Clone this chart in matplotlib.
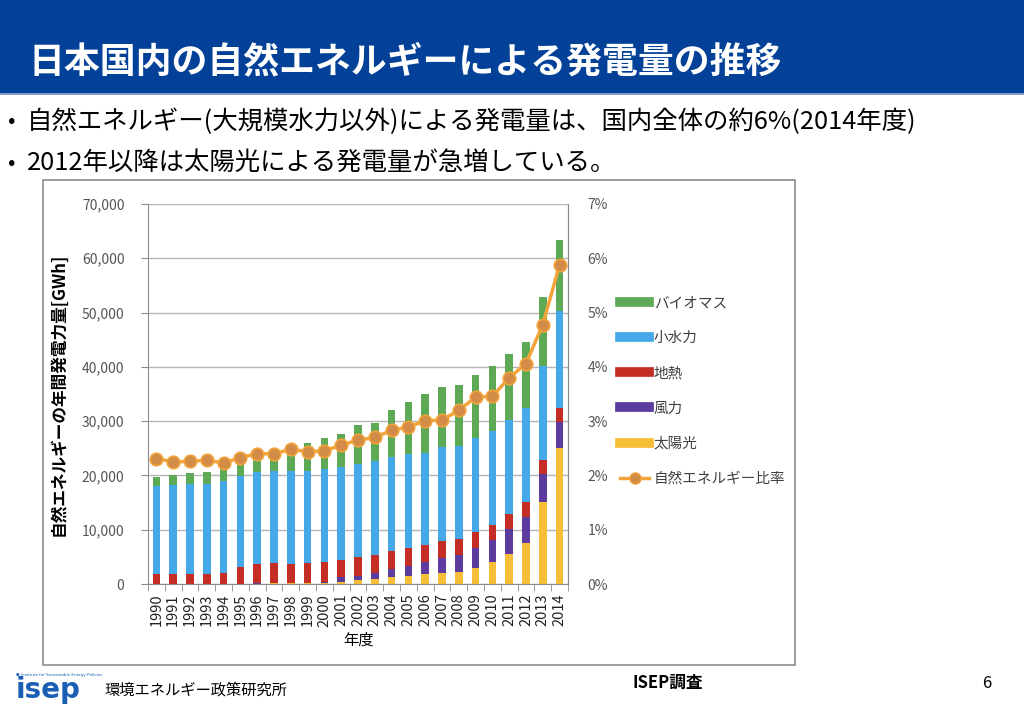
import numpy as np
import matplotlib.pyplot as plt
from matplotlib.lines import Line2D
from matplotlib.patches import Rectangle

plt.rcParams['font.family'] = ['Noto Sans CJK JP', 'DejaVu Sans']

# 年度
years = list(range(1990, 2015))

# 発電量 [GWh]
solar = [0, 0, 0, 0, 0, 0, 0, 100, 100, 100, 200, 400, 700, 900, 1200,
         1500, 1800, 2100, 2300, 3000, 4000, 5500, 7500, 15100, 25000]
wind = [0, 0, 0, 0, 0, 0, 100, 100, 100, 100, 200, 800, 800, 1100, 1500,
        1900, 2200, 2600, 3000, 3700, 4100, 4600, 4800, 5100, 4900]
geothermal = [1800, 1800, 1800, 1800, 2000, 3100, 3600, 3700, 3500, 3700, 3600,
              3300, 3500, 3300, 3400, 3200, 3100, 3200, 2900, 2900, 2700, 2800,
              2800, 2600, 2600]
small_hydro = [16200, 16400, 16700, 16700, 16900, 16800, 17000, 16900, 17100,
               16900, 17100, 17000, 17100, 17300, 17300, 17300, 17100, 17300,
               17200, 17300, 17400, 17400, 17400, 17400, 17700]
biomass = [1750, 1800, 1900, 2100, 2400, 2300, 2400, 2600, 3600, 5200, 5800,
           6100, 7100, 7000, 8700, 9700, 10800, 11000, 11200, 11600, 12000,
           12000, 12100, 12600, 13100]

# 自然エネルギー比率 [%]
ratio = [2.31, 2.25, 2.26, 2.28, 2.23, 2.33, 2.40, 2.40, 2.48, 2.44, 2.45,
         2.56, 2.65, 2.70, 2.83, 2.89, 3.01, 3.02, 3.20, 3.44, 3.46, 3.80,
         4.06, 4.78, 5.88]

series = [("太陽光", solar, "#F6BE37"),
          ("風力", wind, "#5B3B9E"),
          ("地熱", geothermal, "#C42E25"),
          ("小水力", small_hydro, "#45A9E9"),
          ("バイオマス", biomass, "#5EA956")]

W, H = 1024, 708
fig = plt.figure(figsize=(W / 100, H / 100), dpi=100)

def fx(px):
    return px / W

def fy(py):
    return 1 - py / H

# ヘッダー
fig.patches.append(Rectangle((0, fy(93)), 1, 93 / H, transform=fig.transFigure,
                             facecolor="#034198", edgecolor="none", zorder=-2))
fig.patches.append(Rectangle((0, fy(95)), 1, 2 / H, transform=fig.transFigure,
                             facecolor="#7F9CC8", edgecolor="none", zorder=-2))
fig.text(fx(28), fy(62), "日本国内の自然エネルギーによる発電量の推移",
         color="white", fontsize=25.8, fontweight="bold", va="center", ha="left")

fig.text(fx(8), fy(122), "•", fontsize=16, va="center")
fig.text(fx(27), fy(122), "自然エネルギー(大規模水力以外)による発電量は、国内全体の約6%(2014年度)",
         fontsize=18.3, va="center")
fig.text(fx(8), fy(163), "•", fontsize=16, va="center")
fig.text(fx(27), fy(163), "2012年以降は太陽光による発電量が急増している。",
         fontsize=18.3, va="center")

# グラフ枠
fig.patches.append(Rectangle((fx(43), fy(665)), fx(795 - 43), (665 - 180) / H,
                             transform=fig.transFigure, facecolor="white",
                             edgecolor="#8C8C8C", linewidth=1.2, zorder=-1))

ax = fig.add_axes([fx(148), fy(584), fx(568 - 148), (584 - 204) / H])
ax.patch.set_alpha(0)
x = np.arange(len(years))
bottom = np.zeros(len(years))
for name, vals, col in series:
    ax.bar(x, vals, width=0.45, bottom=bottom, color=col, zorder=2)
    bottom += np.array(vals)

ax.set_xlim(-0.5, len(years) - 0.5)
ax.set_ylim(0, 70000)
ax.set_yticks(range(0, 70001, 10000))
ax.set_yticklabels([f"{v:,}" for v in range(0, 70001, 10000)])
ax.set_xticks(x)
ax.set_xticklabels([str(y) for y in years], rotation=90, fontsize=10.5, color="#222222")
ax.set_xticks(np.arange(-0.5, len(years), 1), minor=True)
ax.tick_params(axis="x", which="major", length=0, pad=7)
ax.tick_params(axis="x", which="minor", length=5, color="#8C8C8C")
ax.tick_params(axis="y", length=5, color="#8C8C8C", labelsize=10, labelcolor="#555555", pad=12)
ax.grid(axis="y", color="#B5B5B5", linewidth=1, zorder=0)
for s in ["top"]:
    ax.spines[s].set_visible(False)
for s in ["left", "bottom", "right"]:
    ax.spines[s].set_color("#8C8C8C")
ax.set_ylabel("自然エネルギーの年間発電力量[GWh]", fontsize=12, fontweight="bold", labelpad=10)
ax.set_xlabel("年度", fontsize=11, labelpad=4)

ax2 = ax.twinx()
ax2.plot(x, ratio, color="#F2A33A", linewidth=2.5, marker="o", markersize=9,
         markerfacecolor="#D38B48", markeredgecolor="#F2A33A", markeredgewidth=1.2)
ax2.set_ylim(0, 7)
ax2.set_yticks(range(0, 8))
ax2.set_yticklabels([f"{v}%" for v in range(0, 8)])
ax2.tick_params(axis="y", length=0, labelsize=10, labelcolor="#555555", pad=14)
for s in ["top", "left", "bottom"]:
    ax2.spines[s].set_visible(False)
ax2.spines["right"].set_color("#8C8C8C")

# 凡例
handles = [Line2D([], [], color=col, linewidth=7) for _, _, col in series[::-1]]
labels = [name for name, _, _ in series[::-1]]
handles.append(Line2D([], [], color="#F2A33A", linewidth=2.5, marker="o", markersize=8,
                      markerfacecolor="#D38B48", markeredgecolor="#F2A33A"))
labels.append("自然エネルギー比率")
fig.legend(handles, labels, loc="upper left", bbox_to_anchor=(fx(607), fy(283)),
           frameon=False, fontsize=10.5, handlelength=2.0, labelspacing=1.45,
           handletextpad=0.3, labelcolor="#404040")

# フッター
fig.text(fx(16), fy(690), "isep", color="#1A5FB4", fontsize=20, fontweight="bold",
         va="center", family="DejaVu Sans")
fig.text(fx(16), fy(675), "● Institute for Sustainable Energy Policies", color="#1A5FB4",
         fontsize=3, va="center", family="DejaVu Sans")
fig.text(fx(104), fy(690), "環境エネルギー政策研究所", fontsize=11, va="center")
fig.text(fx(668), fy(683), "ISEP調査", fontsize=12, fontweight="bold", va="center", ha="center")
fig.text(fx(987), fy(683), "6", fontsize=12, va="center", ha="center")

fig.savefig("out.png", dpi=100)
